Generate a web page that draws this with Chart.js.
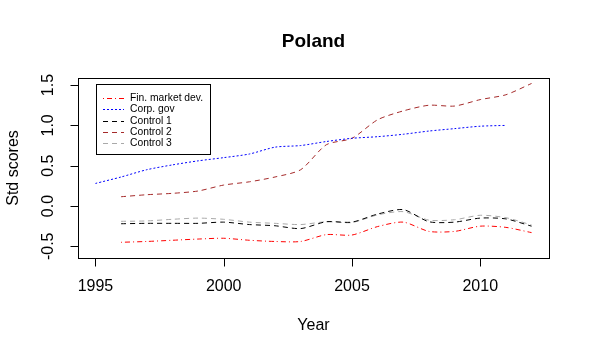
<!DOCTYPE html>
<html>
<head>
<meta charset="utf-8">
<script src="https://cdn.jsdelivr.net/npm/chart.js@4"></script>
<style>
html,body{margin:0;padding:0;background:#fff;}
#wrap{width:590px;height:356px;}
</style>
</head>
<body>
<div id="wrap"><canvas id="c" width="590" height="356"></canvas></div>
<script>
const chartTitle = "Poland";
const xAxisTitle = "Year";
const yAxisTitle = "Std scores";
const xTicks = [1995, 2000, 2005, 2010];
const yTicks = [-0.5, 0, 0.5, 1, 1.5];
const yTickLabels = ["-0.5", "0.0", "0.5", "1.0", "1.5"];

const yearsCorp = [1995,1996,1997,1998,1999,2000,2001,2002,2003,2004,2005,2006,2007,2008,2009,2010,2011];
const yearsOther = [1996,1997,1998,1999,2000,2001,2002,2003,2004,2005,2006,2007,2008,2009,2010,2011,2012];

const finMarket = [-0.45,-0.44,-0.425,-0.41,-0.40,-0.425,-0.44,-0.44,-0.355,-0.36,-0.255,-0.20,-0.315,-0.315,-0.25,-0.265,-0.33];
const corpGov   = [0.28,0.36,0.45,0.51,0.56,0.60,0.645,0.73,0.75,0.80,0.84,0.86,0.89,0.93,0.96,0.99,1.00];
const control1  = [-0.22,-0.215,-0.215,-0.215,-0.20,-0.23,-0.245,-0.28,-0.195,-0.20,-0.10,-0.045,-0.195,-0.20,-0.15,-0.16,-0.25];
const control2  = [0.115,0.14,0.157,0.186,0.26,0.30,0.36,0.45,0.76,0.84,1.07,1.18,1.25,1.24,1.32,1.38,1.52];
const control3  = [-0.19,-0.185,-0.165,-0.15,-0.165,-0.20,-0.215,-0.23,-0.195,-0.205,-0.11,-0.07,-0.175,-0.17,-0.115,-0.145,-0.235];

const FONT = '"Liberation Sans", Arial, sans-serif';
const pts = (xs, ys) => xs.map((x, i) => ({x: x, y: ys[i]}));

function ds(label, xs, ys, color, dash) {
  return {label, data: pts(xs, ys), borderColor: color, borderWidth: 1, borderDash: dash,
          pointRadius: 0, fill: false, tension: 0.25, cubicInterpolationMode: 'default'};
}

const rFrame = {
  id: 'rFrame',
  afterDraw(chart) {
    const ctx = chart.ctx, a = chart.chartArea;
    const xs = chart.scales.x, ys = chart.scales.y;
    ctx.save();
    ctx.setLineDash([]);
    ctx.strokeStyle = '#000'; ctx.lineWidth = 1;
    ctx.strokeRect(Math.round(a.left) + 0.5, Math.round(a.top) + 0.5, Math.round(a.right - a.left), Math.round(a.bottom - a.top));
    ctx.fillStyle = '#000';
    ctx.font = '16px ' + FONT;
    // x ticks
    ctx.beginPath();
    const xp0 = Math.round(xs.getPixelForValue(xTicks[0])) + 0.5;
    const xp1 = Math.round(xs.getPixelForValue(xTicks[xTicks.length - 1])) + 0.5;
    const by = Math.round(a.bottom) + 0.5;
    ctx.moveTo(xp0, by); ctx.lineTo(xp1, by);
    xTicks.forEach(t => { const p = Math.round(xs.getPixelForValue(t)) + 0.5; ctx.moveTo(p, by); ctx.lineTo(p, by + 8); });
    ctx.stroke();
    ctx.textAlign = 'center'; ctx.textBaseline = 'middle';
    xTicks.forEach(t => ctx.fillText(String(t), xs.getPixelForValue(t), 287));
    // y ticks
    ctx.beginPath();
    const lx = Math.round(a.left) + 0.5;
    const yp0 = Math.round(ys.getPixelForValue(yTicks[0])) + 0.5;
    const yp1 = Math.round(ys.getPixelForValue(yTicks[yTicks.length - 1])) + 0.5;
    ctx.moveTo(lx, yp0); ctx.lineTo(lx, yp1);
    yTicks.forEach(t => { const p = Math.round(ys.getPixelForValue(t)) + 0.5; ctx.moveTo(lx, p); ctx.lineTo(lx - 8, p); });
    ctx.stroke();
    yTicks.forEach((t, i) => {
      ctx.save(); ctx.translate(49, ys.getPixelForValue(t)); ctx.rotate(-Math.PI / 2);
      ctx.fillText(yTickLabels[i], 0, 0); ctx.restore();
    });
    // axis titles
    ctx.fillText(xAxisTitle, (a.left + a.right) / 2, 326);
    ctx.save(); ctx.translate(14, (a.top + a.bottom) / 2); ctx.rotate(-Math.PI / 2);
    ctx.fillText(yAxisTitle, 0, 0); ctx.restore();
    // title
    ctx.font = 'bold 19px ' + FONT;
    ctx.fillText(chartTitle, (a.left + a.right) / 2, 42);
    // legend
    const L = {x: 96.5, y: 84.5, w: 114, h: 70};
    ctx.strokeRect(L.x, L.y, L.w, L.h);
    ctx.font = '10.3px ' + FONT; ctx.textAlign = 'left';
    chart.data.datasets.forEach((d, i) => {
      const yy = Math.round(98 + i * 11.3) + 0.5;
      ctx.strokeStyle = d.borderColor; ctx.setLineDash(d.borderDash);
      ctx.beginPath(); ctx.moveTo(103, yy); ctx.lineTo(124, yy); ctx.stroke();
      ctx.fillText(d.label, 130, yy);
    });
    ctx.restore();
  }
};

new Chart(document.getElementById('c'), {
  type: 'line',
  data: {
    datasets: [
      ds('Fin. market dev.', yearsOther, finMarket, '#FF0000', [1, 3, 5, 3]),
      ds('Corp. gov', yearsCorp, corpGov, '#0000FF', [2, 2]),
      ds('Control 1', yearsOther, control1, '#000000', [5, 4]),
      ds('Control 2', yearsOther, control2, '#A52A2A', [5, 4]),
      ds('Control 3', yearsOther, control3, '#A9A9A9', [5, 4])
    ]
  },
  options: {
    responsive: false, animation: false,
    layout: {padding: {left: 78, right: 41, top: 78, bottom: 98}},
    plugins: {legend: {display: false}, title: {display: false}, tooltip: {enabled: false}},
    scales: {
      x: {type: 'linear', min: 1994.32, max: 2012.68, display: false},
      y: {type: 'linear', min: -0.645, max: 1.588, display: false}
    }
  },
  plugins: [rFrame]
});
</script>
</body>
</html>
